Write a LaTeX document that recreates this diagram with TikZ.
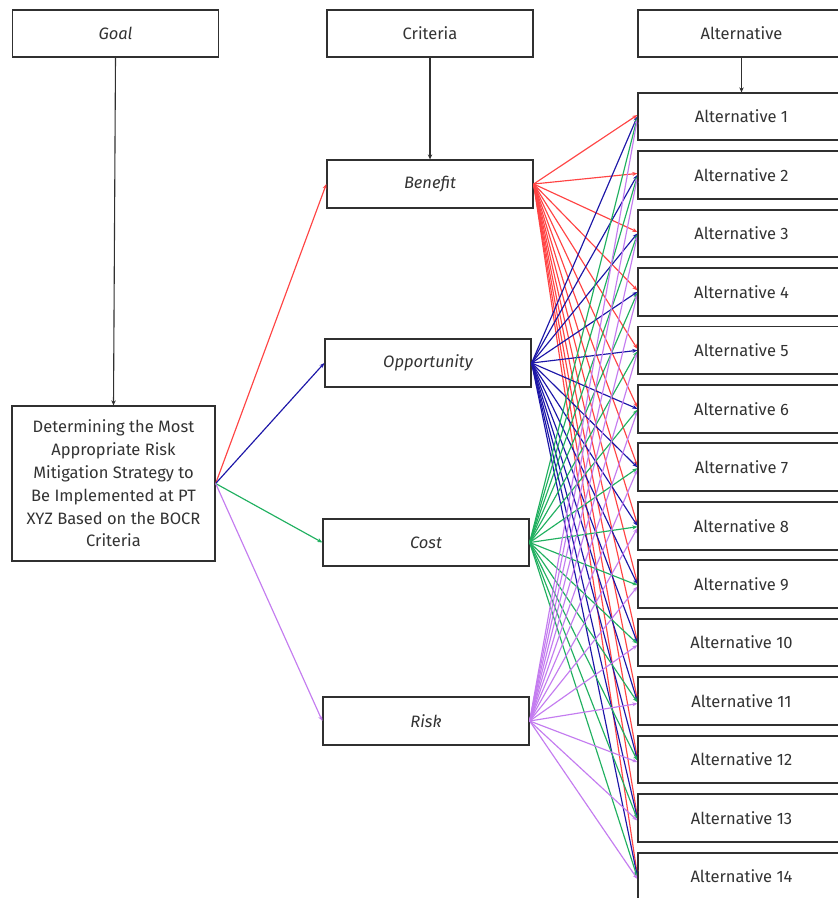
\documentclass[tikz,border=0pt]{standalone}
\usepackage{fontspec}
\setmainfont{Fira Sans}
\usetikzlibrary{arrows.meta}
\definecolor{cred}{HTML}{FF4444}
\definecolor{cblue}{HTML}{1C16A8}
\definecolor{cgreen}{HTML}{20B060}
\definecolor{cviolet}{HTML}{C47CF0}
\definecolor{cbox}{HTML}{303030}
\begin{document}
\begin{tikzpicture}[x=1pt,y=-1pt,
  box/.style={draw=cbox,line width=1.3pt,fill=white,inner sep=0pt,minimum width=206pt,minimum height=47pt,font=\fontsize{16.5}{19}\selectfont,text=black!80},
  altbox/.style={box,minimum width=207pt},
  arr/.style={-{Stealth[length=5pt,width=4.5pt]},line width=1.1pt},
  link/.style={-{Stealth[length=5pt,width=4pt]},line width=1.15pt}]
\clip (0,0) rectangle (838,898);
\fill[white] (0,0) rectangle (838,898);
% headers
\node[box] (goal) at (115.5,33.5) {\itshape Goal};
\node[box] (crit) at (430,33.5) {Criteria};
\node[altbox] (alth) at (741.5,33.5) {Alternative};
% main goal box
\node[box,minimum width=203pt,minimum height=155pt,align=center,font=\fontsize{16.5}{22.8}\selectfont] (main) at (113.5,483.5)
 {Determining the Most\\Appropriate Risk\\Mitigation Strategy to\\Be Implemented at PT\\XYZ Based on the BOCR\\Criteria};
% criteria
\node[box,minimum height=48pt] (B) at (430,184) {\itshape Benefit};
\node[box,minimum height=48pt] (O) at (428,363) {\itshape Opportunity};
\node[box] (C) at (426,542.5) {\itshape Cost};
\node[box,minimum height=48pt] (R) at (426,721) {\itshape Risk};
% alternatives
\foreach \i in {1,...,14}{
  \node[altbox] (a\i) at (741.5,{116.5+(\i-1)*58.46}) {Alternative \i};
}
% vertical arrows
\draw[arr,cbox] (goal.south) -- (main.north);
\draw[arr,cbox] (crit.south) -- (B.north);
\draw[arr,cbox] (alth.south) -- (a1.north);
% goal to criteria
\draw[link,cred] (main.east) -- (B.west);
\draw[link,cblue] (main.east) -- (O.west);
\draw[link,cgreen] (main.east) -- (C.west);
\draw[link,cviolet] (main.east) -- (R.west);
% criteria to alternatives
\foreach \i in {1,...,14}{
  \draw[link,cred] (B.east) -- ([yshift=1.5pt]a\i.west);
}
\foreach \i in {1,...,14}{
  \draw[link,cblue] (O.east) -- ([yshift=0pt]a\i.west);
}
\foreach \i in {1,...,14}{
  \draw[link,cgreen] (C.east) -- ([yshift=-1pt]a\i.west);
}
\foreach \i in {1,...,14}{
  \draw[link,cviolet] (R.east) -- ([yshift=-2.5pt]a\i.west);
}
% redraw alternative borders on top
\foreach \i in {1,...,14}{
  \draw[draw=cbox,line width=1.3pt] (a\i.north west) rectangle (a\i.south east);
}
\end{tikzpicture}
\end{document}
